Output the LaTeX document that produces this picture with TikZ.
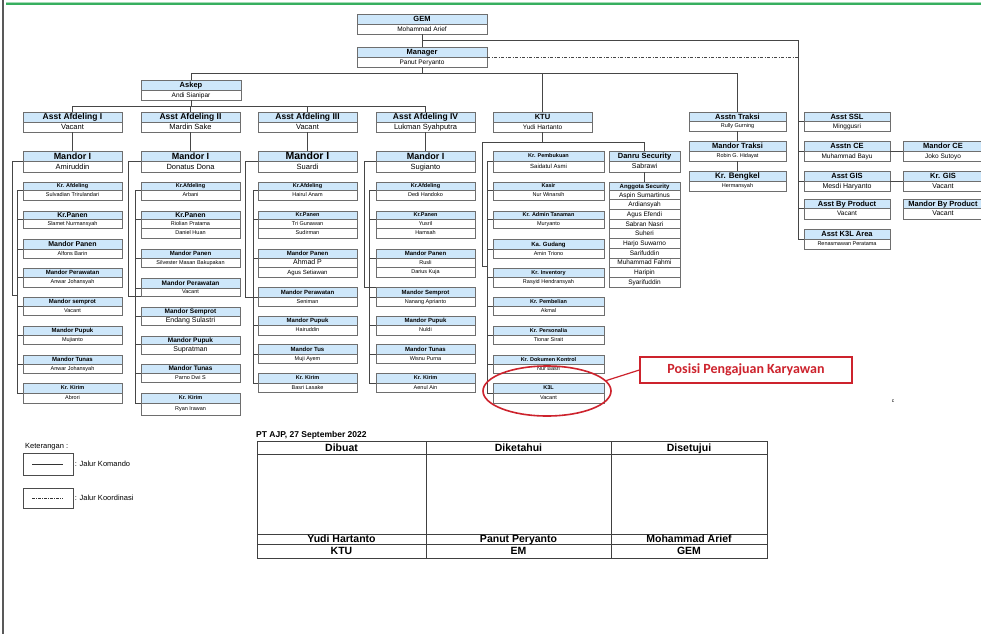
\documentclass[tikz,border=0pt]{standalone}
\usepackage{fontspec}
\setmainfont{Liberation Sans}
\newfontfamily\callfont{Carlito}
\usetikzlibrary{shapes.geometric,calc}
\definecolor{hdrc}{RGB}{206,231,250}
\definecolor{boxc}{RGB}{110,110,110}
\definecolor{linec}{RGB}{70,70,70}
\definecolor{calred}{RGB}{205,35,45}
\definecolor{topgreen}{RGB}{55,175,95}
\newcommand\fsz[1]{\fontsize{#1}{#1}\selectfont}
\newcommand\hdt[2]{{\fsz{#1}\bfseries\smash{#2}\vphantom{A}}}
\newcommand\bdt[2]{{\fsz{#1}\smash{#2}\vphantom{A}}}
\tikzset{
  hdr/.style={draw=boxc, fill=hdrc, line width=0.7pt, inner sep=0pt, outer sep=0pt},
  bdy/.style={draw=boxc, fill=white, line width=0.7pt, inner sep=0pt, outer sep=0pt},
  con/.style={draw=linec, line width=0.7pt},
  coord/.style={draw=linec, line width=0.7pt, dash pattern=on 3pt off 1.5pt on 1pt off 1.5pt},
  cell/.style={draw=black!75, line width=0.7pt, inner sep=0pt, outer sep=0pt, anchor=north west},
}
\newcommand\obox[8]{%
  \node[hdr, minimum width={#6*1pt}, minimum height={(#4-#3)*1pt}, anchor=north west] (#1) at (#2,#3) {\makebox[0pt]{#7}};
  \node[bdy, minimum width={#6*1pt}, minimum height={(#5-#4)*1pt}, anchor=north west] (#1b) at (#2,#4) {\makebox[0pt]{#8}};}
\newcommand\orow[6]{%
  \node[bdy, minimum width={#5*1pt}, minimum height={(#4-#3)*1pt}, anchor=north west] (#1) at (#2,#3) {\makebox[0pt]{#6}};}
\begin{document}
\begin{tikzpicture}[x=1pt,y=-1pt]
\useasboundingbox (0,0) rectangle (981,634);
\fill[white] (0,0) rectangle (981,634);
\draw[black!65, line width=1.4pt] (3,0) -- (3,634);
\draw[topgreen!45, line width=3pt] (6,4) -- (981,4);
\draw[topgreen, line width=1.4pt] (6,4) -- (981,4);

% ---- top
\obox{gem}{357}{14}{24}{34}{130}{\hdt{7.5}{GEM}}{\bdt{6.5}{Mohammad Arief}}
\obox{mgr}{357}{47}{57}{67}{130}{\hdt{7.5}{Manager}}{\bdt{6.5}{Panut Peryanto}}
\obox{askep}{141}{80}{90}{100}{100}{\hdt{7.5}{Askep}}{\bdt{6.5}{Andi Sianipar}}

% ---- assistants
\obox{a1}{23}{112}{122}{132}{99}{\hdt{8.5}{Asst Afdeling I}}{\bdt{7.5}{Vacant}}
\obox{a2}{141}{112}{122}{132}{99}{\hdt{8.5}{Asst Afdeling II}}{\bdt{7.5}{Mardin Sake}}
\obox{a3}{258}{112}{122}{132}{99}{\hdt{8.5}{Asst Afdeling III}}{\bdt{7.5}{Vacant}}
\obox{a4}{376}{112}{122}{132}{99}{\hdt{8.5}{Asst Afdeling IV}}{\bdt{7.5}{Lukman Syahputra}}
\obox{ktu}{493}{112}{122}{132}{99}{\hdt{7.5}{KTU}}{\bdt{6.5}{Yudi Hartanto}}

% ---- Mandor I
\obox{m1}{23}{151}{161}{172}{99}{\hdt{9}{Mandor I}}{\bdt{7.5}{Amiruddin}}
\obox{m2}{141}{151}{161}{172}{99}{\hdt{9}{Mandor I}}{\bdt{7.5}{Donatus Dona}}
\obox{m3}{258}{151}{161}{172}{99}{\hdt{10.5}{Mandor I}}{\bdt{7.5}{Suardi}}
\obox{m4}{376}{151}{161}{172}{99}{\hdt{9}{Mandor I}}{\bdt{7.5}{Sugianto}}

% ---- column 1
\obox{c1a}{23}{182}{190}{200}{99}{\hdt{5.5}{Kr. Afdeling}}{\bdt{5.5}{Sulvadian Trirulandari}}
\obox{c1b}{23}{211}{219}{228}{99}{\hdt{7}{Kr.Panen}}{\bdt{5.5}{Slamet Nurmansyah}}
\obox{c1c}{23}{239}{249}{258}{99}{\hdt{7}{Mandor Panen}}{\bdt{5.5}{Alfons Barin}}
\obox{c1d}{23}{268}{277}{287}{99}{\hdt{6}{Mandor Perawatan}}{\bdt{5.5}{Anwar Johansyah}}
\obox{c1e}{23}{297}{306}{315}{99}{\hdt{6}{Mandor semprot}}{\bdt{5.5}{Vacant}}
\obox{c1f}{23}{326}{335}{344}{99}{\hdt{6}{Mandor Pupuk}}{\bdt{5.5}{Mujianto}}
\obox{c1g}{23}{355}{364}{373}{99}{\hdt{6}{Mandor Tunas}}{\bdt{5.5}{Anwar Johansyah}}
\obox{c1h}{23}{383}{393}{403}{99}{\hdt{5.5}{Kr. Kirim}}{\bdt{5.5}{Abrori}}

% ---- column 2
\obox{c2a}{141}{182}{190}{200}{99}{\hdt{5.5}{Kr.Afdeling}}{\bdt{5.5}{Arbani}}
\obox{c2b}{141}{211}{219}{228}{99}{\hdt{7}{Kr.Panen}}{\bdt{5.5}{Riolian Pratama}}
\orow{c2bx}{141}{228}{238}{99}{\bdt{5.5}{Daniel Huan}}
\obox{c2c}{141}{249}{258}{267}{99}{\hdt{6}{Mandor Panen}}{\bdt{5.5}{Silvester Masan Bakupakan}}
\obox{c2d}{141}{278}{288}{296}{99}{\hdt{6.5}{Mandor Perawatan}}{\bdt{5.5}{Vacant}}
\obox{c2e}{141}{307}{316}{325}{99}{\hdt{6.5}{Mandor Semprot}}{\bdt{7}{Endang Sulastri}}
\obox{c2f}{141}{336}{344}{354}{99}{\hdt{6.5}{Mandor Pupuk}}{\bdt{7}{Supratman}}
\obox{c2g}{141}{364}{373}{382}{99}{\hdt{6.5}{Mandor Tunas}}{\bdt{5.5}{Parno Dwi S}}
\obox{c2h}{141}{393}{403}{415}{99}{\hdt{5.5}{Kr. Kirim}}{\bdt{5.5}{Ryan Irawan}}

% ---- column 3
\obox{c3a}{258}{182}{190}{200}{99}{\hdt{5.5}{Kr.Afdeling}}{\bdt{5.5}{Hairul Anam}}
\obox{c3b}{258}{211}{219}{228}{99}{\hdt{5.5}{Kr.Panen}}{\bdt{5.5}{Tri Gunawan}}
\orow{c3bx}{258}{228}{238}{99}{\bdt{5.5}{Sudirman}}
\obox{c3c}{258}{249}{258}{267}{99}{\hdt{6}{Mandor Panen}}{\bdt{7}{Ahmad P}}
\orow{c3cx}{258}{267}{277}{99}{\bdt{6}{Agus Setiawan}}
\obox{c3d}{258}{287}{297}{306}{99}{\hdt{6}{Mandor Perawatan}}{\bdt{5.5}{Seniman}}
\obox{c3e}{258}{316}{325}{335}{99}{\hdt{6}{Mandor Pupuk}}{\bdt{5.5}{Hairuddin}}
\obox{c3f}{258}{344}{354}{363}{99}{\hdt{6}{Mandor Tus}}{\bdt{5.5}{Muji Ayem}}
\obox{c3g}{258}{373}{383}{392}{99}{\hdt{5.5}{Kr. Kirim}}{\bdt{5.5}{Basri Lasake}}

% ---- column 4
\obox{c4a}{376}{182}{190}{200}{99}{\hdt{5.5}{Kr.Afdeling}}{\bdt{5.5}{Dedi Handoko}}
\obox{c4b}{376}{211}{219}{228}{99}{\hdt{5.5}{Kr.Panen}}{\bdt{5.5}{Yusril}}
\orow{c4bx}{376}{228}{238}{99}{\bdt{5.5}{Hamsah}}
\obox{c4c}{376}{249}{258}{267}{99}{\hdt{6}{Mandor Panen}}{\bdt{5.5}{Rusli}}
\orow{c4cx}{376}{267}{277}{99}{\bdt{5.5}{Darius Kuja}}
\obox{c4d}{376}{287}{297}{306}{99}{\hdt{6}{Mandor Semprot}}{\bdt{5.5}{Nanang Aprianto}}
\obox{c4e}{376}{316}{325}{335}{99}{\hdt{6}{Mandor Pupuk}}{\bdt{5.5}{Nuldi}}
\obox{c4f}{376}{344}{354}{363}{99}{\hdt{6}{Mandor Tunas}}{\bdt{5.5}{Wisnu Purna}}
\obox{c4g}{376}{373}{383}{392}{99}{\hdt{5.5}{Kr. Kirim}}{\bdt{5.5}{Aenul Ain}}

% ---- KTU column
\obox{k1}{493}{151}{161}{172}{111}{\hdt{5.5}{Kr. Pembukuan}}{\bdt{6}{Saidatul Asmi}}
\obox{k2}{493}{182}{190}{200}{111}{\hdt{5.5}{Kasir}}{\bdt{5.5}{Nur Winarsih}}
\obox{k3}{493}{211}{219}{228}{111}{\hdt{5.5}{Kr. Admin Tanaman}}{\bdt{5.5}{Muryanto}}
\obox{k4}{493}{239}{249}{258}{111}{\hdt{6}{Ka. Gudang}}{\bdt{5.5}{Amin Triono}}
\obox{k5}{493}{268}{277}{287}{111}{\hdt{5.5}{Kr. Inventory}}{\bdt{5.5}{Rasyid Hendransyah}}
\obox{k6}{493}{297}{306}{315}{111}{\hdt{5.5}{Kr. Pembelian}}{\bdt{5.5}{Akmal}}
\obox{k7}{493}{326}{335}{344}{111}{\hdt{5.5}{Kr. Personalia}}{\bdt{5.5}{Tionar Sirait}}
\obox{k8}{493}{355}{364}{373}{111}{\hdt{5.5}{Kr. Dokumen Kontrol}}{\bdt{5.5}{Nur Basri}}
\obox{k9}{493}{383}{393}{403}{111}{\hdt{5.5}{K3L}}{\bdt{5.5}{Vacant}}

% ---- security
\obox{danru}{609}{151}{161}{172}{71}{\hdt{7.5}{Danru Security}}{\bdt{7}{Sabrawi}}
\obox{ang}{609}{182}{190}{199.7}{71}{\hdt{6}{Anggota Security}}{\bdt{6.5}{Aspin Sumartinus}}
\orow{ag2}{609}{199.7}{209.4}{71}{\bdt{6.5}{Ardiansyah}}
\orow{ag3}{609}{209.4}{219.1}{71}{\bdt{6.5}{Agus Efendi}}
\orow{ag4}{609}{219.1}{228.8}{71}{\bdt{6.5}{Sabran Nasri}}
\orow{ag5}{609}{228.8}{238.5}{71}{\bdt{6.5}{Suheri}}
\orow{ag6}{609}{238.5}{248.2}{71}{\bdt{6.5}{Harjo Suwarno}}
\orow{ag7}{609}{248.2}{257.9}{71}{\bdt{6.5}{Sarifuddin}}
\orow{ag8}{609}{257.9}{267.6}{71}{\bdt{6.5}{Muhammad Fahmi}}
\orow{ag9}{609}{267.6}{277.3}{71}{\bdt{6.5}{Haripin}}
\orow{ag10}{609}{277.3}{287}{71}{\bdt{6.5}{Syarifuddin}}

% ---- traksi
\obox{t1}{689}{112}{121}{131}{97}{\hdt{7.5}{Asstn Traksi}}{\bdt{5.5}{Rully Gurning}}
\obox{t2}{689}{141}{151}{161}{97}{\hdt{7.5}{Mandor Traksi}}{\bdt{5.5}{Robin G. Hidayat}}
\obox{t3}{689}{171}{181}{191}{97}{\hdt{8}{Kr. Bengkel}}{\bdt{5.5}{Hermansyah}}

% ---- right side
\obox{r1}{804}{112}{121}{131}{86}{\hdt{7.5}{Asst SSL}}{\bdt{6.5}{Minggusri}}
\obox{r2}{804}{141}{151}{161}{86}{\hdt{7.5}{Asstn CE}}{\bdt{6.5}{Muhammad Bayu}}
\obox{r3}{804}{171}{181}{191}{86}{\hdt{7.5}{Asst GIS}}{\bdt{7}{Mesdi Haryanto}}
\obox{r4}{804}{199}{208}{219}{86}{\hdt{7.5}{Asst By Product}}{\bdt{6.5}{Vacant}}
\obox{r5}{804}{229}{239}{249}{86}{\hdt{7.5}{Asst K3L Area}}{\bdt{5.5}{Renasmawan Peratama}}
\obox{f1}{903}{141}{151}{161}{80}{\hdt{7.5}{Mandor CE}}{\bdt{6.5}{Joko Sutoyo}}
\obox{f2}{903}{171}{181}{191}{80}{\hdt{7.5}{Kr. GIS}}{\bdt{7}{Vacant}}
\obox{f3}{903}{199}{208}{219}{80}{\hdt{7.5}{Mandor By Product}}{\bdt{7}{Vacant}}

% ---- connectors: top
\draw[con] (gemb.south) -- (mgr.north);
\draw[con] ([yshift=-6pt]gemb.south) -| ([xshift=-6pt]r5.south west) -- (r5.south west);
\foreach \n in {r1,r2,r3,r4} \draw[con] (\n.south west) -- ++(-6,0);
\coordinate (rvline) at ([xshift=-6pt]r5.south west);
\draw[coord] (mgr.south east) -- (mgr.south east -| rvline);
\coordinate (h73) at ([yshift=-6pt]mgrb.south);
\draw[con] (mgrb.south) -- (h73);
\draw[con] (askep.north) -- (askep.north |- h73) -- (t1.north |- h73) -- (t1.north);
\draw[con] (ktu.north) -- (ktu.north |- h73);
\coordinate (h106) at ([yshift=-6pt]askepb.south);
\draw[con] (askepb.south) -- (h106);
\draw[con] (a1.north) -- (a1.north |- h106) -- (a4.north |- h106) -- (a4.north);
\draw[con] (a2.north) -- (a2.north |- h106);
\draw[con] (a3.north) -- (a3.north |- h106);
\draw[con] (a1b.south) -- (m1.north);
\draw[con] (a2b.south) -- (m2.north);
\draw[con] (a3b.south) -- (m3.north);
\draw[con] (a4b.south) -- (m4.north);

% column 1
\draw[con] (m1.south west) -- ++(-11,0) -- ++(0,134) -- ++(5,0);
\draw[con] (c1a.south west) -- ++(-6,0) coordinate (i1) -- (i1 |- c1h.south west) -- (c1h.south west);
\foreach \n in {c1b,c1c,c1d,c1e,c1f,c1g} \draw[con] (\n.south west) -- ++(-6,0);
% column 2
\draw[con] (m2.south west) -- ++(-13,0) -- ++(0,135) -- (c2db.south west);
\draw[con] (c2a.south west) -- ++(-6,0) coordinate (i2) -- (i2 |- c2h.south west) -- (c2h.south west);
\foreach \n in {c2b,c2c,c2d,c2e,c2f,c2g} \draw[con] (\n.south west) -- ++(-6,0);
% column 3
\draw[con] (m3.south west) -- ++(-13,0) -- ++(0,136) -- ++(8,0);
\draw[con] (c3a.south west) -- ++(-5,0) coordinate (i3) -- (i3 |- c3g.south west) -- (c3g.south west);
\foreach \n in {c3b,c3c,c3d,c3e,c3f} \draw[con] (\n.south west) -- ++(-5,0);
% column 4
\draw[con] (m4.south west) -- ++(-12,0) -- ++(0,126) -- (c4d.north west);
\draw[con] (c4a.south west) -- ++(-7,0) coordinate (i4) -- (i4 |- c4g.south west) -- (c4g.south west);
\foreach \n in {c4b,c4c,c4d,c4e,c4f} \draw[con] (\n.south west) -- ++(-7,0);
% KTU
\coordinate (h142) at ([yshift=-10pt]ktub.south);
\coordinate (kx) at ([xshift=-11pt]k1.south west);
\draw[con] (ktub.south) -- (h142);
\draw[con] (danru.north) |- (kx |- h142) -- ++(0,124) -- ++(5,0);
\draw[con] (k1.south west) -- ++(-6,0) coordinate (i5) -- (i5 |- k9.south west) -- (k9.south west);
\foreach \n in {k2,k3,k4,k5,k6,k7,k8} \draw[con] (\n.south west) -- ++(-6,0);
\draw[con] (danrub.south) -- (ang.north);
% traksi
\draw[con] (t1b.south) -- (t2.north);
\draw[con] (t2b.south) -- (t3.north);
% right
\draw[con] (r2.south east) -- (f1.south west);
\draw[con] (r3.south east) -- (f2.south west);

% ---- callout
\node[ellipse, draw=calred, line width=1.6pt, minimum width=128, minimum height=50, inner sep=0pt] (ell) at (547,391) {};
\node[draw=calred, line width=1.2pt, minimum width=212, minimum height=26, inner sep=0pt, text=calred, font=\callfont\bfseries\fsz{14}] (call) at (746,370) {Posisi Pengajuan Karyawan};
\draw[calred, line width=1.2pt] (call.west) -- (ell.10);
\node[font=\fsz{5}] (cmark) at (893,401) {c};

% ---- legend
\node[anchor=west, font=\fsz{7.5}, inner sep=0pt] (ket) at (25,447) {Keterangan :};
\node[draw=black!70, line width=0.6pt, minimum width=50, minimum height=22, anchor=north west, inner sep=0pt] (lg1) at (23,453) {};
\draw[black!80, line width=0.5pt] ([xshift=-16pt]lg1.center) -- ([xshift=15pt]lg1.center);
\node[anchor=west, font=\fsz{7.5}, inner sep=1pt] (lt1) at (lg1.east) {: Jalur Komando};
\node[draw=black!70, line width=0.6pt, minimum width=50, minimum height=20, anchor=north west, inner sep=0pt] (lg2) at (23,488) {};
\draw[black!80, line width=0.5pt, dash pattern=on 3pt off 1pt on 1pt off 1pt] ([xshift=-16pt]lg2.center) -- ([xshift=15pt]lg2.center);
\node[anchor=west, font=\fsz{7.5}, inner sep=1pt] (lt2) at (lg2.east) {: Jalur Koordinasi};

% ---- signature table
\node[anchor=south west, font=\bfseries\fsz{8.5}, inner sep=0pt] (ptajp) at (256,439) {PT AJP, 27 September 2022};
\node[cell, minimum width=169, minimum height=13] (s1) at (257,441) {\hdt{10.5}{Dibuat}};
\node[cell, minimum width=185, minimum height=13] (s2) at (426,441) {\hdt{10.5}{Diketahui}};
\node[cell, minimum width=156, minimum height=13] (s3) at (611,441) {\hdt{10.5}{Disetujui}};
\node[cell, minimum width=169, minimum height=80] (g1) at (257,454) {};
\node[cell, minimum width=185, minimum height=80] (g2) at (426,454) {};
\node[cell, minimum width=156, minimum height=80] (g3) at (611,454) {};
\node[cell, minimum width=169, minimum height=10] (n1) at (257,534) {\hdt{10.5}{Yudi Hartanto}};
\node[cell, minimum width=185, minimum height=10] (n2) at (426,534) {\hdt{10.5}{Panut Peryanto}};
\node[cell, minimum width=156, minimum height=10] (n3) at (611,534) {\hdt{10.5}{Mohammad Arief}};
\node[cell, minimum width=169, minimum height=14] (j1) at (257,544) {\hdt{10.5}{KTU}};
\node[cell, minimum width=185, minimum height=14] (j2) at (426,544) {\hdt{10.5}{EM}};
\node[cell, minimum width=156, minimum height=14] (j3) at (611,544) {\hdt{10.5}{GEM}};
\end{tikzpicture}
\end{document}
